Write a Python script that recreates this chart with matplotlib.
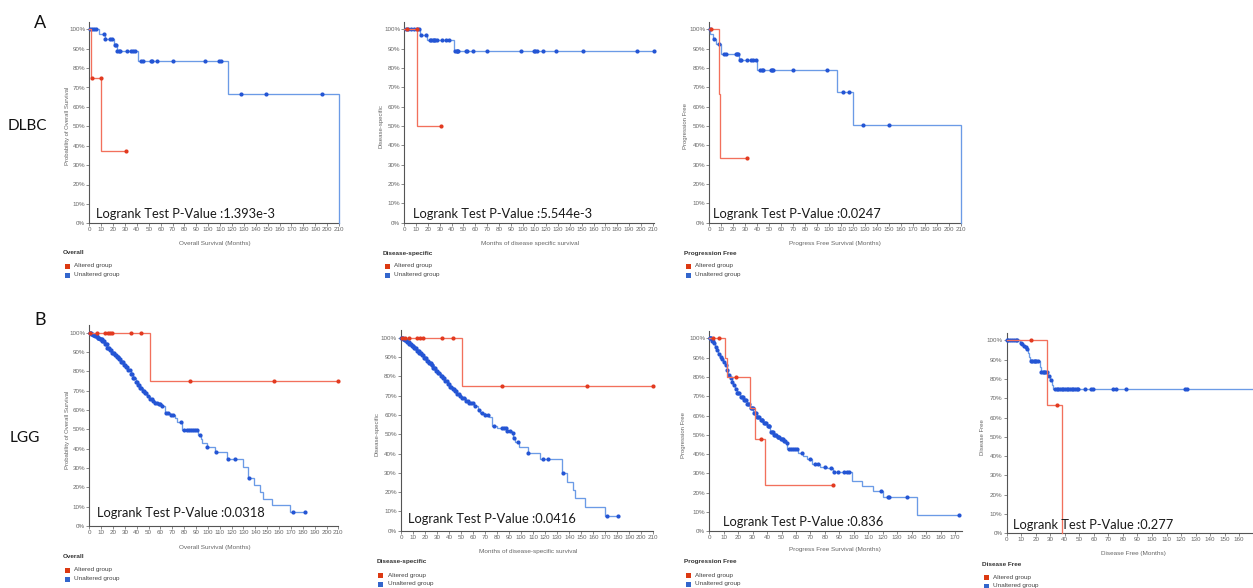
import numpy as np
import matplotlib
matplotlib.use("Agg")
import matplotlib.pyplot as plt
from matplotlib.lines import Line2D

W, H = 1253, 588

# ---------------- DLBC ----------------
# Overall survival
dlbc_os_alt_t = [1.2, 9.8]
dlbc_os_alt_s = [75.0, 37.5]
dlbc_os_alt_c = [2.0, 9.5, 30.8]
dlbc_os_alt_end = 30.8
dlbc_os_unalt_t = [8.5, 13.2, 20.5, 23.0, 40.6, 116.3, 210.0]
dlbc_os_unalt_s = [97.4, 94.8, 91.9, 88.9, 83.6, 66.9, 0.0]
dlbc_os_unalt_c = [0.5, 2.0, 4.2, 5.3, 12.6, 13.5, 17.4, 18.8, 21.6, 22.4, 23.5, 24.7,
                   25.8, 31.4, 34.8, 37.0, 38.4, 43.7, 44.9, 51.6, 52.7, 56.6, 70.0,
                   97.6, 108.8, 110.7, 127.3, 149.0, 195.4]
dlbc_os_unalt_end = 210.0

# Disease-specific survival
dlbc_dss_alt_t = [10.7]
dlbc_dss_alt_s = [50.0]
dlbc_dss_alt_c = [2.0, 10.4, 31.0]
dlbc_dss_alt_end = 31.0
dlbc_dss_unalt_t = [13.2, 19.4, 42.0]
dlbc_dss_unalt_s = [97.3, 94.3, 88.8]
dlbc_dss_unalt_c = [1.1, 3.4, 5.6, 8.2, 11.0, 12.7, 13.8, 18.3, 21.7, 22.8, 24.0, 25.1,
                    25.9, 27.3, 31.6, 35.2, 38.0, 42.8, 44.2, 44.8, 45.7, 52.1, 53.3,
                    57.8, 70.2, 98.4, 109.6, 110.8, 111.9, 117.0, 128.2, 150.8, 197.0,
                    211.0]
dlbc_dss_unalt_end = 211.0

# Progression free survival
dlbc_pfs_alt_t = [8.3, 9.2]
dlbc_pfs_alt_s = [66.7, 33.3]
dlbc_pfs_alt_c = [1.1, 31.2]
dlbc_pfs_alt_end = 31.2
dlbc_pfs_unalt_t = [0.5, 3.0, 5.5, 9.5, 24.5, 39.8, 106.3, 120.2, 210.0]
dlbc_pfs_unalt_s = [97.4, 94.9, 92.3, 87.2, 84.0, 78.7, 67.5, 50.5, 0.0]
dlbc_pfs_unalt_c = [0.2, 3.9, 7.8, 12.5, 13.6, 22.3, 23.4, 23.9, 25.6, 26.7, 31.7, 34.5,
                    36.7, 38.7, 42.3, 43.7, 44.5, 51.5, 52.3, 53.4, 70.1, 97.9, 111.8,
                    116.6, 128.0, 150.2]
dlbc_pfs_unalt_end = 210.0

# ---------------- LGG ----------------
# Overall survival
lgg_os_alt_t = [50.8]
lgg_os_alt_s = [75.0]
lgg_os_alt_c = [0.5, 6.5, 13.4, 15.7, 17.7, 19.1, 35.4, 43.8, 84.5, 155.6, 210.0]
lgg_os_alt_end = 210.0
lgg_os_unalt_t = [1.5, 3, 5, 7, 9, 11, 13, 15, 17, 19, 21, 23, 25, 27, 29, 31, 33, 35,
                  37, 39, 41, 43, 45, 47, 49, 51, 53, 55, 58, 61, 63.8, 68, 72, 74, 78,
                  91.9, 94.5, 95.3, 99.5, 106, 116.4, 130, 134, 139, 144, 146.7, 154.3,
                  169.5]
lgg_os_unalt_s = [99.5, 98.9, 98.2, 97.4, 96.6, 95.5, 94.0, 92.3, 90.9, 89.7, 88.5, 87.4,
                  86.3, 84.8, 83.4, 82.0, 80.5, 78.5, 76.5, 74.6, 72.8, 71.2, 69.9, 68.8,
                  67.5, 65.7, 64.6, 63.6, 62.9, 62.0, 58.4, 57.5, 55.8, 54.0, 49.7, 47.2,
                  45.0, 43.0, 41.0, 38.3, 34.7, 30.6, 24.9, 21.2, 17.6, 14.0, 10.9, 7.3]
lgg_os_unalt_c = [0.3, 0.8, 1.3, 1.8, 2.4, 3.0, 3.7, 4.3, 5.0, 5.6, 6.3, 7.0, 7.6, 8.3,
                  9.0, 9.7, 10.4, 11.1, 11.8, 12.5, 13.2, 13.9, 14.6, 15.3, 16.0, 16.8,
                  17.5, 18.2, 19.0, 19.8, 20.6, 21.4, 22.2, 23.0, 23.8, 24.6, 25.4, 26.2,
                  27.0, 27.8, 28.6, 29.4, 30.2, 31.0, 32.0, 33.0, 34.0, 35.0, 36.0, 37.0,
                  38.0, 39.0, 40.0, 41.0, 42.0, 43.0, 44.0, 45.0, 46.0, 47.0, 48.0, 49.5,
                  51.0, 52.5, 54.0, 55.5, 57.0, 58.5, 60.0, 61.5, 64.5, 66.0, 69.0, 70.5,
                  77.0, 80.0, 82.6, 84.0, 85.5, 87.7, 89.0, 91.0, 93.5, 99.5, 106.8,
                  117.0, 123.0, 134.5, 172.0, 182.0]
lgg_os_unalt_end = 182.0

# Disease-specific survival
lgg_dss_alt_t = [50.6]
lgg_dss_alt_s = [75.0]
lgg_dss_alt_c = [0.5, 3.3, 6.9, 13.6, 15.8, 18.1, 34.4, 43.6, 83.9, 155.0, 209.5]
lgg_dss_alt_end = 210.0
lgg_dss_unalt_t = [1.5, 3, 5, 7, 9, 11, 13, 15, 17, 19, 21, 23, 25, 27, 29, 31, 33, 35,
                   37, 39, 41, 43, 45, 47, 49, 51, 54, 57, 61, 64, 66, 70, 73, 75.6, 80,
                   88, 92, 93.6, 95, 97.8, 105.8, 115.8, 134, 138, 143, 145, 153, 170]
lgg_dss_unalt_s = [99.4, 98.6, 97.7, 96.8, 95.7, 94.5, 93.3, 92.3, 91.0, 89.4, 88.0, 86.8,
                   85.6, 84.2, 82.9, 81.6, 80.2, 78.9, 77.5, 76.0, 74.7, 73.4, 72.2, 71.0,
                   69.7, 68.6, 67.4, 66.4, 64.6, 62.5, 61.0, 60.0, 58.7, 54.3, 53.0, 51.8,
                   50.4, 48.0, 46.1, 43.6, 40.4, 37.3, 30.0, 25.4, 21.2, 17.0, 12.4, 7.8]
lgg_dss_unalt_c = [0.3, 0.8, 1.3, 1.8, 2.4, 3.0, 3.7, 4.3, 5.0, 5.6, 6.3, 7.0, 7.6, 8.3,
                   9.0, 9.7, 10.4, 11.1, 11.8, 12.5, 13.2, 13.9, 14.6, 15.3, 16.0, 16.8,
                   17.5, 18.2, 19.0, 19.8, 20.6, 21.4, 22.2, 23.0, 23.8, 24.6, 25.4, 26.2,
                   27.0, 27.8, 28.6, 29.4, 30.2, 31.0, 32.0, 33.0, 34.0, 35.0, 36.0, 37.0,
                   38.0, 39.0, 40.0, 41.0, 42.0, 43.0, 44.0, 45.0, 46.0, 47.0, 48.0, 49.5,
                   51.0, 52.5, 54.0, 55.5, 57.0, 58.5, 60.0, 62.0, 65.0, 67.0, 70.0, 72.0,
                   77.0, 84.2, 85.5, 87.0, 88.5, 90.8, 93.0, 94.2, 97.5, 105.8, 118.0,
                   122.5, 134.5, 171.7, 180.8]
lgg_dss_unalt_end = 180.8

# Progression free survival
lgg_pfs_alt_t = [10.8, 12.0, 28.1, 31.6, 38.5]
lgg_pfs_alt_s = [90.0, 80.0, 64.0, 48.0, 24.0]
lgg_pfs_alt_c = [2.8, 6.9, 18.5, 35.5, 85.4]
lgg_pfs_alt_end = 85.4
lgg_pfs_unalt_t = [1.6, 2.8, 3.9, 5.1, 6.2, 7.4, 8.5, 9.7, 10.8, 12.0, 13.1, 14.3, 15.5,
                   16.6, 17.8, 18.9, 21.2, 23.5, 25.8, 28.1, 30.4, 32.8, 35.1, 37.4, 39.7,
                   42.0, 44.3, 46.6, 48.9, 51.2, 53.1, 54.0, 61.6, 65.1, 67.4, 70.8, 76.6,
                   81.2, 85.8, 98.5, 105.4, 113.5, 120.0, 143.5]
lgg_pfs_unalt_s = [98.8, 97.4, 95.7, 94.0, 91.9, 90.5, 89.1, 87.9, 86.2, 83.6, 81.0, 79.3,
                   77.5, 75.8, 73.6, 71.8, 69.8, 68.0, 66.0, 63.7, 61.5, 59.4, 57.7, 56.3,
                   54.6, 51.6, 49.9, 48.7, 47.7, 47.0, 45.9, 42.5, 40.8, 39.0, 37.3, 34.9,
                   33.5, 32.6, 30.9, 26.1, 23.5, 21.1, 18.0, 8.5]
lgg_pfs_unalt_c = [0.3, 0.8, 1.2, 2.0, 2.4, 3.3, 4.5, 5.6, 6.8, 8.0, 9.1, 10.2, 11.4,
                   12.5, 13.7, 14.9, 16.0, 17.2, 18.3, 19.5, 20.0, 20.6, 21.8, 22.4, 23.0,
                   24.1, 24.7, 25.3, 26.4, 27.0, 27.6, 28.7, 29.3, 29.9, 31.0, 31.6, 32.2,
                   33.3, 33.9, 34.5, 35.6, 36.2, 36.8, 38.0, 38.6, 39.2, 40.3, 41.0, 41.5,
                   42.6, 43.2, 43.8, 45.0, 45.5, 46.1, 47.2, 47.8, 48.4, 49.5, 50.1, 50.7,
                   51.8, 52.4, 53.5, 55.5, 56.5, 58.0, 59.0, 60.5, 64.0, 70.0, 73.0, 75.0,
                   80.0, 84.0, 86.5, 89.3, 93.5, 95.0, 96.9, 118.6, 123.9, 124.6, 136.6,
                   172.5]
lgg_pfs_unalt_end = 172.5

# Disease free survival
lgg_dfs_alt_t = [28.0, 37.8]
lgg_dfs_alt_s = [66.7, 0.0]
lgg_dfs_alt_c = [16.5, 34.4]
lgg_dfs_alt_end = 37.8
lgg_dfs_unalt_t = [9.2, 10.3, 11.5, 12.6, 13.8, 14.9, 15.6, 16.1, 22.9, 23.6, 28.7, 29.8,
                   31.0, 32.1]
lgg_dfs_unalt_s = [98.8, 97.9, 97.2, 96.4, 95.3, 93.6, 91.5, 89.5, 86.4, 83.5, 81.5, 79.4,
                   76.9, 74.9]
lgg_dfs_unalt_c = [0.0, 1.2, 2.5, 3.7, 5.0, 6.2, 7.0, 9.8, 10.8, 12.0, 13.2, 14.3, 16.6,
                   17.4, 18.5, 19.5, 20.5, 21.7, 23.9, 24.8, 25.7, 26.6, 27.6, 29.2, 30.3,
                   33.3, 34.4, 35.6, 36.7, 37.8, 39.0, 40.1, 41.3, 42.4, 43.6, 44.7, 45.9,
                   47.0, 48.2, 49.3, 53.9, 57.8, 59.2, 72.9, 75.2, 81.9, 122.7, 123.9]
lgg_dfs_unalt_end = 195.0

pvalues = ["1.393e-3", "5.544e-3", "0.0247", "0.0318", "0.0416", "0.836", "0.277"]
legend_titles = ["Overall", "Disease-specific", "Progression Free",
                 "Overall", "Disease-specific", "Progression Free", "Disease Free"]
ylabels = ["Probability of Overall Survival", "Disease-specific", "Progression Free",
           "Probability of Overall Survival", "Disease-specific", "Progression Free",
           "Disease Free"]
xlabels = ["Overall Survival (Months)", "Months of disease specific survival",
           "Progress Free Survival (Months)", "Overall Survival (Months)",
           "Months of disease-specific survival", "Progress Free Survival (Months)",
           "Disease Free (Months)"]
group_labels = ["Altered group", "Unaltered group"]

RED_LINE, RED_MARK = "#f2705c", "#e23a20"
BLUE_LINE, BLUE_MARK = "#6b9be6", "#2455d4"
RED_BOX, BLUE_BOX = "#dc3912", "#3366cc"
GRAY = "#666666"

# layout (pixels): left edge, px per month, x max, last labelled tick, y of 100%,
# y of 0%, x label centre, y-label x, legend origin, p-value text origin
layout = [
    dict(left=89.3, ppm=1.189, xmax=210, tmax=210, y100=29.3, y0=223.3, xl=(215, 243),
         yl=67, leg=(63, 253), pv=(96, 218)),
    dict(left=404.3, ppm=1.1825, xmax=211.5, tmax=210, y100=29.3, y0=222.7,
         xl=(530, 243), yl=381, leg=(383, 253), pv=(413, 218)),
    dict(left=709.3, ppm=1.198, xmax=210, tmax=210, y100=29.3, y0=222.7, xl=(835, 243),
         yl=685, leg=(684, 253), pv=(713, 218)),
    dict(left=89.3, ppm=1.186, xmax=210, tmax=210, y100=332.7, y0=526.0, xl=(215, 547),
         yl=67, leg=(63, 557), pv=(97, 517)),
    dict(left=401.0, ppm=1.2016, xmax=210, tmax=210, y100=337.7, y0=530.7,
         xl=(528, 552), yl=377, leg=(377, 562), pv=(408, 523)),
    dict(left=709.3, ppm=1.445, xmax=174.6, tmax=170, y100=338.3, y0=531.3,
         xl=(835, 550), yl=683, leg=(684, 562), pv=(723, 526)),
    dict(left=1006.7, ppm=1.453, xmax=195, tmax=160, y100=340.3, y0=533.3,
         xl=(1133, 554), yl=983, leg=(982, 564), pv=(1013, 529)),
]

series = [
    ((dlbc_os_alt_t, dlbc_os_alt_s, dlbc_os_alt_c, dlbc_os_alt_end),
     (dlbc_os_unalt_t, dlbc_os_unalt_s, dlbc_os_unalt_c, dlbc_os_unalt_end)),
    ((dlbc_dss_alt_t, dlbc_dss_alt_s, dlbc_dss_alt_c, dlbc_dss_alt_end),
     (dlbc_dss_unalt_t, dlbc_dss_unalt_s, dlbc_dss_unalt_c, dlbc_dss_unalt_end)),
    ((dlbc_pfs_alt_t, dlbc_pfs_alt_s, dlbc_pfs_alt_c, dlbc_pfs_alt_end),
     (dlbc_pfs_unalt_t, dlbc_pfs_unalt_s, dlbc_pfs_unalt_c, dlbc_pfs_unalt_end)),
    ((lgg_os_alt_t, lgg_os_alt_s, lgg_os_alt_c, lgg_os_alt_end),
     (lgg_os_unalt_t, lgg_os_unalt_s, lgg_os_unalt_c, lgg_os_unalt_end)),
    ((lgg_dss_alt_t, lgg_dss_alt_s, lgg_dss_alt_c, lgg_dss_alt_end),
     (lgg_dss_unalt_t, lgg_dss_unalt_s, lgg_dss_unalt_c, lgg_dss_unalt_end)),
    ((lgg_pfs_alt_t, lgg_pfs_alt_s, lgg_pfs_alt_c, lgg_pfs_alt_end),
     (lgg_pfs_unalt_t, lgg_pfs_unalt_s, lgg_pfs_unalt_c, lgg_pfs_unalt_end)),
    ((lgg_dfs_alt_t, lgg_dfs_alt_s, lgg_dfs_alt_c, lgg_dfs_alt_end),
     (lgg_dfs_unalt_t, lgg_dfs_unalt_s, lgg_dfs_unalt_c, lgg_dfs_unalt_end)),
]

YTOP = 104.0
TICK_FONT = "Liberation Sans"
BIG_FONT = "Lato"

fig = plt.figure(figsize=(W / 100, H / 100), dpi=100)
fig.patch.set_facecolor("white")


def fx(x):
    return x / W


def fy(y):
    return 1 - y / H


def km_curve(ax, ev_t, ev_s, cens, end, line_color, mark_color, z):
    times = [0.0] + list(ev_t) + [end]
    surv = [100.0] + list(ev_s) + [ev_s[-1]]
    ax.step(times, surv, where="post", color=line_color, lw=0.95, zorder=z,
            solid_joinstyle="miter", clip_on=False)
    levels = np.array([100.0] + list(ev_s))
    idx = np.searchsorted(np.array(ev_t), np.array(cens), side="right")
    ax.plot(cens, levels[idx], ls="none", marker="o", ms=3.0, mew=0,
            color=mark_color, zorder=z + 1, clip_on=False)


for i, (lay, (alt, unalt)) in enumerate(zip(layout, series)):
    px_h = (lay["y0"] - lay["y100"]) * YTOP / 100.0
    px_w = lay["xmax"] * lay["ppm"]
    ax = fig.add_axes([fx(lay["left"]), fy(lay["y0"]), px_w / W, px_h / H])
    ax.set_xlim(0, lay["xmax"])
    ax.set_ylim(0, YTOP)

    km_curve(ax, *unalt, BLUE_LINE, BLUE_MARK, 3)
    km_curve(ax, *alt, RED_LINE, RED_MARK, 5)

    for side in ("top", "right"):
        ax.spines[side].set_visible(False)
    for side in ("left", "bottom"):
        ax.spines[side].set_color("#555555")
        ax.spines[side].set_linewidth(0.8)
    ax.set_yticks(np.arange(0, 101, 10))
    ax.set_yticklabels([f"{v}%" for v in range(0, 101, 10)])
    xt = np.arange(0, lay["tmax"] + 0.01, 10)
    ax.set_xticks(xt)
    ax.set_xticklabels([f"{int(v)}" for v in xt])
    ax.tick_params(axis="both", length=2, width=0.6, color="#777777", pad=1,
                   labelsize=4.5, labelcolor=GRAY)
    for lab in ax.get_xticklabels() + ax.get_yticklabels():
        lab.set_family(TICK_FONT)
    ax.patch.set_alpha(0)

    # axis titles
    fig.text(fx(lay["xl"][0]), fy(lay["xl"][1]), xlabels[i], ha="center", va="center",
             fontsize=4.6, color=GRAY, family=TICK_FONT)
    fig.text(fx(lay["yl"]), fy((lay["y0"] + lay["y100"]) / 2), ylabels[i], rotation=90,
             ha="center", va="center", fontsize=4.3, color=GRAY, family=TICK_FONT)

    # log-rank annotation
    fig.text(fx(lay["pv"][0]), fy(lay["pv"][1]), f"Logrank Test P-Value :{pvalues[i]}",
             ha="left", va="baseline", fontsize=9.3, color="#1a1a1a", family=BIG_FONT)

    # legend block below each plot
    lx, ly = lay["leg"]
    fig.text(fx(lx), fy(ly), legend_titles[i], ha="left", va="center", fontsize=4.6,
             fontweight="bold", color="#333333", family=TICK_FONT)
    for k, (lab, col) in enumerate(zip(group_labels, [RED_BOX, BLUE_BOX])):
        yy = ly + 13 + 8.5 * k
        fig.add_artist(Line2D([fx(lx + 3.5)], [fy(yy)], marker="s", ms=3.6, mew=0,
                              color=col, transform=fig.transFigure))
        fig.text(fx(lx + 11), fy(yy), lab, ha="left", va="center", fontsize=4.6,
                 color="#444444", family=TICK_FONT)

# panel tags and cancer types
fig.text(fx(40), fy(23), "A", ha="center", va="center", fontsize=13, family=BIG_FONT,
         color="#111111")
fig.text(fx(27), fy(126), "DLBC", ha="center", va="center", fontsize=11, family=BIG_FONT,
         color="#111111")
fig.text(fx(40), fy(320), "B", ha="center", va="center", fontsize=13, family=BIG_FONT,
         color="#111111")
fig.text(fx(25), fy(438), "LGG", ha="center", va="center", fontsize=11, family=BIG_FONT,
         color="#111111")

fig.savefig("out.png", dpi=100, facecolor="white")
